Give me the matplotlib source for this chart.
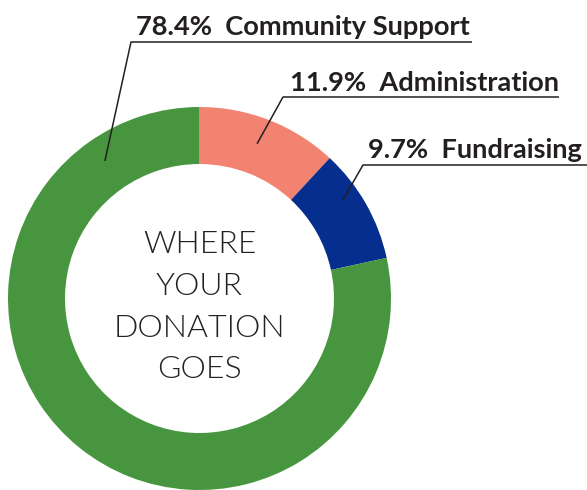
import matplotlib
matplotlib.use("Agg")
import matplotlib.pyplot as plt
import numpy as np

# Data
categories = ["Administration", "Fundraising", "Community Support"]
values = [11.9, 9.7, 78.4]
pct_labels = ["11.9%", "9.7%", "78.4%"]
colors = ["#F28371", "#062E8E", "#47963F"]
center_lines = ["WHERE", "YOUR", "DONATION", "GOES"]

W, H = 587, 490
fig = plt.figure(figsize=(W / 100, H / 100), dpi=100)
ax = fig.add_axes([0, 0, 1, 1])

cx, cy = 199.5, 490 - 298.5
R = 191.5
ring = 57

wedges, _ = ax.pie(values, colors=colors, startangle=90, counterclock=False,
                   radius=R, center=(cx, cy),
                   wedgeprops=dict(width=ring, linewidth=0), frame=True)
ax.set_xlim(0, W)
ax.set_ylim(0, H)
ax.set_aspect("equal")
ax.axis("off")

# Layout of leader lines: (anchor angle clockwise from top, anchor radius,
# elbow x, elbow y(px from top), underline end x, text x, text y)
layout = {
    "Administration": (20.4, 165, 283, 97, 559, 290, 91),
    "Fundraising": (55.5, 174, 363, 165, 587, 368, 158),
    "Community Support": (-34.5, 167, 131, 42, 472, 136, 35),
}
txtc = "#231F20"
for cat, pct in zip(categories, pct_labels):
    ang, r, ex, ey, endx, tx, ty = layout[cat]
    a = np.deg2rad(ang)
    px = cx + r * np.sin(a)
    py = cy + r * np.cos(a)
    ax.plot([px, ex, endx], [py, H - ey, H - ey], color=txtc, lw=1.1,
            solid_capstyle="butt", clip_on=False)
    ax.text(tx, H - ty, f"{pct}  {cat}", fontsize=19.6, fontweight="bold",
            family=["Lato", "DejaVu Sans"], color=txtc, ha="left",
            va="baseline")

line_y = [253, 295, 337, 378]
for t, yb in zip(center_lines, line_y):
    ax.text(cx, H - yb, t, fontsize=23, fontweight=300,
            family=["Lato", "DejaVu Sans"], color="#222222",
            ha="center", va="baseline")

fig.savefig("out.png", dpi=100)
